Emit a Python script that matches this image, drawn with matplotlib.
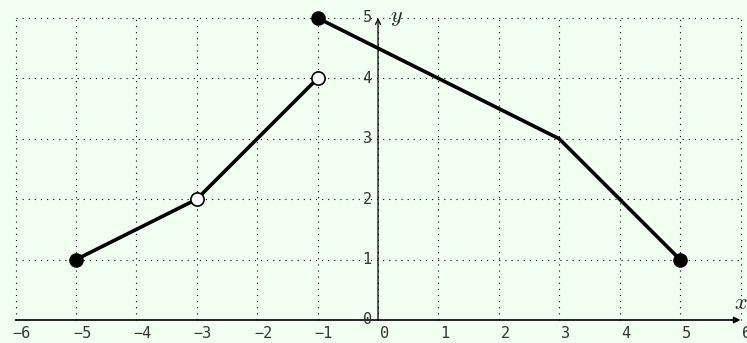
import matplotlib
matplotlib.use("Agg")
import matplotlib.pyplot as plt
from matplotlib.transforms import offset_copy

plt.rcParams["mathtext.fontset"] = "cm"

# Piecewise function data
seg1_x = [-5, -3, -1]
seg1_y = [1, 2, 4]
seg2_x = [-1, 3, 5]
seg2_y = [5, 3, 1]

filled_x = [-5, -1, 5]
filled_y = [1, 5, 1]
open_x = [-3, -1]
open_y = [2, 4]

x_ticks = [-6, -5, -4, -3, -2, -1, 0, 1, 2, 3, 4, 5, 6]
y_ticks = [0, 1, 2, 3, 4, 5]

bg = "#f0fff0"
fig = plt.figure(figsize=(7.47, 3.43), dpi=100, facecolor=bg)
ax = fig.add_axes([15.5 / 747, 23 / 343, 725 / 747, 302 / 343])
ax.set_facecolor(bg)
ax.set_xlim(-6, 6)
ax.set_ylim(0, 5)
for s in ax.spines.values():
    s.set_visible(False)
ax.set_xticks([])
ax.set_yticks([])

grid_kw = dict(color="black", lw=0.8, linestyle=(0, (1, 4.5)), clip_on=False, zorder=1)
for xv in x_ticks:
    ax.plot([xv, xv], [0, 5], **grid_kw)
for yv in y_ticks[1:]:
    ax.plot([-6, 6], [yv, yv], **grid_kw)

# axes with arrows
ax.annotate("", xy=(6, 0), xytext=(-6, 0),
            arrowprops=dict(arrowstyle="-|>", color="black", lw=1.2,
                            mutation_scale=9, shrinkA=0, shrinkB=0),
            annotation_clip=False, zorder=2)
ax.annotate("", xy=(0, 5), xytext=(0, 0),
            arrowprops=dict(arrowstyle="->", color="black", lw=0.9,
                            mutation_scale=9, shrinkA=0, shrinkB=0),
            annotation_clip=False, zorder=2)

lab_kw = dict(family="DejaVu Sans Mono", fontsize=11, color="#333333")
tx = offset_copy(ax.transData, fig=fig, x=4.5, y=-4.5, units="points")
for xv in x_ticks:
    ax.text(xv, 0, f"{xv}".replace("-", "\u2212"), transform=tx,
            ha="center", va="top", clip_on=False, **lab_kw)
ty = offset_copy(ax.transData, fig=fig, x=-4.5, y=0, units="points")
for yv in y_ticks:
    ax.text(0, yv, f"{yv}", transform=ty, ha="right", va="center",
            clip_on=False, **lab_kw)

ax.text(0.2, 5, "$y$", fontsize=16, ha="left", va="center", color="#222222")
ax.text(6, 0.28, "$x$", fontsize=16, ha="center", va="center", color="#222222",
        clip_on=False)

line_kw = dict(color="black", lw=2.6, solid_capstyle="round", zorder=3, clip_on=False)
ax.plot(seg1_x, seg1_y, **line_kw)
ax.plot(seg2_x, seg2_y, **line_kw)
ax.plot(filled_x, filled_y, "o", ms=9.5, color="black", zorder=4, clip_on=False)
ax.plot(open_x, open_y, "o", ms=9.5, mfc="white", mec="black", mew=1.2,
        zorder=4, clip_on=False)

fig.savefig("out.png", dpi=100, facecolor=bg)
